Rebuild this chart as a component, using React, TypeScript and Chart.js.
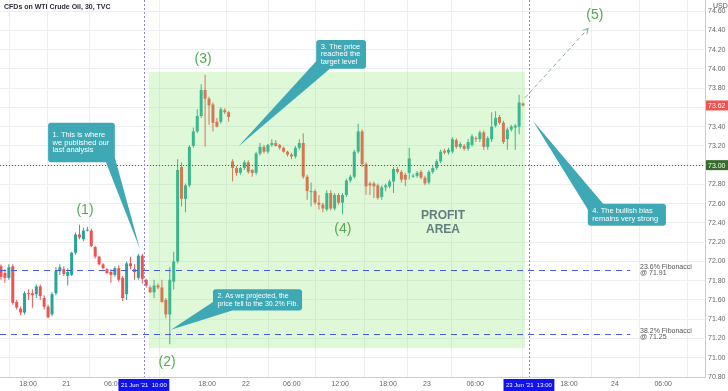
import React, { useEffect, useRef } from "react";
import { Chart, registerables } from "chart.js";
Chart.register(...registerables);

// ---- Candle data (30 min bars, WTI) ----
const opens = [71.95,71.88,71.83,71.95,71.58,71.51,71.47,71.67,71.67,71.66,71.74,71.62,71.53,71.45,71.67,71.90,71.92,71.85,71.86,72.09,72.28,72.23,72.32,72.32,72.15,72.05,71.97,71.92,71.89,71.86,71.93,71.83,71.66,71.98,71.92,71.83,72.06,71.81,71.73,71.68,71.75,71.73,71.60,71.45,71.79,72.00,72.98,72.65,72.79,73.20,73.35,73.51,73.78,73.69,73.63,73.45,73.45,73.57,73.55,73.04,72.97,72.92,72.97,73.03,72.95,72.92,73.12,73.19,73.14,73.21,73.23,73.21,73.18,73.14,73.11,73.09,73.18,73.23,72.88,72.72,72.73,72.61,72.59,72.54,72.71,72.55,72.69,72.61,72.69,72.84,72.88,73.14,73.35,73.01,72.81,72.81,72.79,72.67,72.77,72.78,72.83,72.96,72.93,72.90,72.92,72.88,72.89,72.93,72.87,72.82,72.93,72.97,73.04,73.15,73.13,73.14,73.26,73.19,73.20,73.17,73.21,73.28,73.27,73.34,73.19,73.27,73.41,73.50,73.44,73.27,73.37,73.39,73.40,73.64];
const highs = [71.97,71.92,71.97,71.97,71.60,71.53,71.69,71.71,71.71,71.76,71.76,71.65,71.55,71.68,71.94,71.97,71.95,71.93,72.10,72.30,72.38,72.35,72.36,72.34,72.16,72.06,71.98,71.93,71.92,71.95,71.96,71.85,72.00,72.05,71.97,72.08,72.08,71.82,71.75,71.81,71.77,71.81,71.62,71.94,72.10,73.06,73.03,72.81,73.21,73.39,73.58,73.84,73.94,73.71,73.65,73.49,73.60,73.59,73.56,73.06,72.99,72.98,73.05,73.05,72.96,73.14,73.23,73.21,73.22,73.27,73.26,73.22,73.19,73.15,73.13,73.20,73.27,73.33,72.90,72.82,72.75,72.69,72.61,72.74,72.74,72.71,72.71,72.71,72.86,72.90,73.16,73.43,73.37,73.03,72.83,72.83,72.81,72.79,72.81,72.85,72.98,72.98,72.95,72.92,73.18,72.91,72.94,72.95,72.89,72.95,72.99,73.06,73.16,73.17,73.18,73.29,73.28,73.24,73.22,73.27,73.32,73.30,73.36,73.36,73.30,73.55,73.56,73.52,73.46,73.39,73.42,73.43,73.73,73.65];
const lows = [71.81,71.78,71.81,71.55,71.50,71.44,71.45,71.60,71.52,71.62,71.60,71.50,71.41,71.43,71.65,71.86,71.85,71.75,71.85,72.07,72.23,72.21,72.31,72.15,72.03,71.96,71.92,71.87,71.78,71.84,71.79,71.59,71.60,71.92,71.81,71.81,71.77,71.73,71.67,71.62,71.71,71.57,71.41,71.14,71.71,71.98,72.57,72.51,72.77,73.18,73.33,73.49,73.19,73.42,73.35,73.39,73.43,73.53,73.45,72.83,72.89,72.90,72.95,72.91,72.88,72.90,73.10,73.12,73.12,73.19,73.19,73.16,73.13,73.09,73.06,73.07,73.16,72.86,72.64,72.57,72.59,72.54,72.51,72.52,72.53,72.53,72.59,72.49,72.67,72.82,72.86,73.12,72.98,72.69,72.69,72.66,72.64,72.64,72.73,72.76,72.71,72.91,72.82,72.78,72.85,72.87,72.87,72.85,72.79,72.80,72.91,72.95,73.02,73.11,73.11,73.12,73.17,73.17,73.15,73.15,73.19,73.24,73.24,73.16,73.16,73.24,73.39,73.42,73.22,73.16,73.35,73.16,73.32,73.61];
const closes = [71.84,71.83,71.94,71.57,71.52,71.47,71.67,71.66,71.65,71.74,71.64,71.53,71.42,71.66,71.90,71.94,71.87,71.89,72.09,72.28,72.25,72.32,72.33,72.16,72.05,71.97,71.93,71.88,71.86,71.93,71.81,71.62,71.98,71.95,71.89,72.06,71.82,71.75,71.68,71.75,71.73,71.58,71.45,71.81,72.00,72.95,72.65,72.79,73.19,73.35,73.51,73.78,73.69,73.62,73.44,73.40,73.58,73.55,73.50,72.97,72.92,72.97,73.03,72.93,72.92,73.12,73.19,73.14,73.21,73.23,73.20,73.18,73.14,73.11,73.09,73.18,73.23,72.88,72.73,72.73,72.61,72.59,72.55,72.71,72.55,72.69,72.61,72.69,72.84,72.88,73.14,73.35,73.01,72.78,72.79,72.78,72.66,72.77,72.79,72.83,72.96,72.93,72.85,72.85,73.07,72.89,72.92,72.87,72.81,72.93,72.97,73.04,73.14,73.13,73.16,73.27,73.19,73.22,73.17,73.24,73.30,73.27,73.34,73.19,73.28,73.40,73.49,73.44,73.24,73.37,73.40,73.41,73.65,73.62];

// ---- Axis ticks ----
const xTickPos = [6.9, 16.6, 28.5, 52.5, 62.4, 74.1, 86.4, 98.6, 108.5, 120.8, 144.7, 156.4, 168.7];
const xTickLabels = ["18:00", "21", "06:00", "18:00", "22", "06:00", "12:00", "18:00", "23", "06:00", "18:00", "24", "06:00"];
const yTickValues = [70.8, 71.0, 71.2, 71.4, 71.6, 71.8, 72.0, 72.2, 72.4, 72.6, 72.8, 73.0, 73.2, 73.4, 73.6, 73.8, 74.0, 74.2, 74.4, 74.6];

// ---- Levels / markers ----
const fibLevels = [71.91, 71.25];
const fibLabels = [["23.6% Fibonacci", "@ 71.91"], ["38.2% Fibonacci", "@ 71.25"]];
const pivotLevel = 73.0;
const markerIdx = [36.4, 134.5];
const markerLabels = ["21 Jun '21  10:00", "23 Jun '21  13:00"];
const waveLabels = ["(1)", "(2)", "(3)", "(4)", "(5)"];
const waveIdx = [21.4, 42.3, 51.5, 87.1, 151.3];
const wavePrice = [72.53, 70.95, 74.10, 72.34, 74.56];

const GREEN = "#26a69a";
const RED = "#ef5350";
const FONT = "'Liberation Sans', Arial, sans-serif";

export default function App() {
  const ref = useRef<HTMLCanvasElement>(null);
  useEffect(() => {
    document.body.style.margin = "0";
    const canvas = ref.current!;
    const n = closes.length;
    const colors = closes.map((c, i) => (c >= opens[i] ? GREEN : RED));
    const bodies = closes.map((c, i) => ({ x: i, y: [opens[i], c] }));
    const wicks = closes.map((_, i) => ({ x: i, y: [lows[i], highs[i]] }));

    const annot = {
      id: "annot",
      afterDatasetsDraw(chart: any) {
        const ctx = chart.ctx as CanvasRenderingContext2D;
        const xs = chart.scales.x, ys = chart.scales.y, ca = chart.chartArea;
        const X = (v: number) => xs.getPixelForValue(v);
        const Y = (v: number) => ys.getPixelForValue(v);
        ctx.save();
        // profit area overlay
        ctx.fillStyle = "rgba(128,232,100,0.25)";
        ctx.fillRect(X(37.7), Y(73.97), X(133.5) - X(37.7), Y(71.1) - Y(73.97));

        // pivot dotted line
        ctx.strokeStyle = "#555";
        ctx.lineWidth = 1;
        ctx.setLineDash([1, 2]);
        ctx.beginPath();
        const py = Math.round(Y(pivotLevel)) + 0.5;
        ctx.moveTo(ca.left, py);
        ctx.lineTo(ca.right, py);
        ctx.stroke();

        // fib dashed lines
        ctx.strokeStyle = "#4a5be0";
        ctx.setLineDash([6, 5]);
        fibLevels.forEach((lv) => {
          const y = Math.round(Y(lv)) + 0.5;
          ctx.beginPath();
          ctx.moveTo(ca.left, y);
          ctx.lineTo(X(160.3), y);
          ctx.stroke();
        });
        ctx.setLineDash([]);
        ctx.fillStyle = "#555";
        ctx.font = `7px ${FONT}`;
        ctx.textAlign = "left";
        ctx.textBaseline = "middle";
        fibLevels.forEach((lv, i) => {
          const y = Y(lv);
          ctx.fillText(fibLabels[i][0], X(162.8), y - 3);
          ctx.fillText(fibLabels[i][1], X(162.8), y + 3);
        });

        // vertical dotted markers
        ctx.strokeStyle = "#8c84d8";
        ctx.setLineDash([2, 2]);
        markerIdx.forEach((m) => {
          const x = Math.round(X(m)) + 0.5;
          ctx.beginPath();
          ctx.moveTo(x, ca.top);
          ctx.lineTo(x, ca.bottom);
          ctx.stroke();
        });
        ctx.setLineDash([]);

        // dashed projection arrow
        const ax1 = X(133.5), ay1 = Y(73.7), ax2 = X(149.6), ay2 = Y(74.42);
        ctx.strokeStyle = "#8fae8f";
        ctx.setLineDash([4, 3]);
        ctx.beginPath();
        ctx.moveTo(ax1, ay1);
        ctx.lineTo(ax2, ay2);
        ctx.stroke();
        ctx.setLineDash([]);
        const ang = Math.atan2(ay2 - ay1, ax2 - ax1);
        ctx.beginPath();
        ctx.moveTo(ax2 - 6 * Math.cos(ang - 0.5), ay2 - 6 * Math.sin(ang - 0.5));
        ctx.lineTo(ax2, ay2);
        ctx.lineTo(ax2 - 6 * Math.cos(ang + 0.5), ay2 - 6 * Math.sin(ang + 0.5));
        ctx.stroke();

        // wave labels
        ctx.fillStyle = "#55a855";
        ctx.font = `14px ${FONT}`;
        ctx.textAlign = "center";
        waveLabels.forEach((w, i) => ctx.fillText(w, X(waveIdx[i]), Y(wavePrice[i])));

        // profit area text
        ctx.fillStyle = "#607d80";
        ctx.font = `bold 12px ${FONT}`;
        ctx.fillText("PROFIT", X(112.6), Y(72.48));
        ctx.fillText("AREA", X(112.6), Y(72.33));

        // callouts
        const callouts = [
          { lines: ["1. This is where", "we published our", "last analysis"], box: [12.0, 73.44, 29.0, 73.03], tip: [35.4, 72.13], base: [[26.75, 73.03], [29.0, 73.08]] },
          { lines: ["2. As we projected, the", "price fell to the 30.2% Fib."], box: [54.0, 71.71, 76.7, 71.49], tip: [43.3, 71.29], base: [[54.0, 71.58], [58.9, 71.49]] },
          { lines: ["3. The price", "reached the", "target level"], box: [80.3, 74.3, 93.0, 74.0], tip: [60.4, 73.19], base: [[80.3, 74.08], [83.8, 74.0]] },
          { lines: ["4. The bullish bias", "remains very strong"], box: [149.5, 72.6, 169.4, 72.37], tip: [135.5, 73.46], base: [[149.5, 72.54], [153.4, 72.6]] },
        ];
        callouts.forEach((c) => {
          ctx.fillStyle = "#3fa8b5";
          ctx.beginPath();
          ctx.moveTo(X(c.tip[0]), Y(c.tip[1]));
          ctx.lineTo(X(c.base[0][0]), Y(c.base[0][1]));
          ctx.lineTo(X(c.base[1][0]), Y(c.base[1][1]));
          ctx.closePath();
          ctx.fill();
          const bx = X(c.box[0]), by = Y(c.box[1]), bw = X(c.box[2]) - bx, bh = Y(c.box[3]) - by;
          ctx.beginPath();
          (ctx as any).roundRect(bx, by, bw, bh, 3);
          ctx.fill();
          ctx.fillStyle = "#ffffff";
          let fs = 7.5;
          ctx.font = `${fs}px ${FONT}`;
          const maxW = Math.max(...c.lines.map((l) => ctx.measureText(l).width));
          if (maxW > bw - 8) {
            fs = (fs * (bw - 8)) / maxW;
            ctx.font = `${fs}px ${FONT}`;
          }
          ctx.textAlign = "left";
          ctx.textBaseline = "middle";
          const lh = 7.5;
          const cy = by + bh / 2 - ((c.lines.length - 1) * lh) / 2;
          c.lines.forEach((l, i) => ctx.fillText(l, bx + 4.5, cy + i * lh));
        });
        ctx.restore();
      },
      afterDraw(chart: any) {
        const ctx = chart.ctx as CanvasRenderingContext2D;
        const xs = chart.scales.x, ys = chart.scales.y, ca = chart.chartArea;
        const X = (v: number) => xs.getPixelForValue(v);
        const Y = (v: number) => ys.getPixelForValue(v);
        ctx.save();
        ctx.font = `6px ${FONT}`;
        ctx.textBaseline = "middle";
        ctx.textAlign = "center";
        // time markers
        markerIdx.forEach((m, i) => {
          const cx = X(m);
          const w = ctx.measureText(markerLabels[i]).width + 5;
          ctx.fillStyle = "#1212ee";
          ctx.fillRect(cx - w / 2, ca.bottom + 2, w, 12);
          ctx.fillStyle = "#fff";
          ctx.fillText(markerLabels[i], cx, ca.bottom + 8);
        });
        // price badges
        ctx.font = `7px ${FONT}`;
        const badge = (v: number, bg: string) => {
          const y = Y(v);
          ctx.fillStyle = bg;
          ctx.fillRect(ca.right + 1, y - 5, 22, 10);
          ctx.fillStyle = "#fff";
          ctx.textAlign = "left";
          ctx.fillText(v.toFixed(2), ca.right + 3, y + 0.5);
        };
        badge(closes[n - 1], RED);
        badge(pivotLevel, "#366b2c");
        // title + currency
        ctx.fillStyle = "#2a2e39";
        ctx.font = `bold 7px ${FONT}`;
        ctx.textAlign = "left";
        ctx.fillText("CFDs on WTI Crude Oil, 30, TVC", 4, 7);
        ctx.fillStyle = "#555";
        ctx.font = `7px ${FONT}`;
        ctx.fillText("USD", 713, 6);
        ctx.restore();
      },
    };

    const chart = new Chart(canvas, {
      type: "bar",
      data: {
        datasets: [
          { data: bodies as any, backgroundColor: colors, barThickness: 3, minBarLength: 1, grouped: false, inflateAmount: 0, borderWidth: 0 } as any,
          { data: wicks as any, backgroundColor: colors, barThickness: 1, grouped: false, inflateAmount: 0, borderWidth: 0 } as any,
        ],
      },
      options: {
        responsive: false,
        animation: false,
        layout: { padding: 0 },
        plugins: { legend: { display: false }, tooltip: { enabled: false } },
        scales: {
          x: {
            type: "linear",
            min: -0.25,
            max: 179.35,
            offset: false,
            grid: { color: "#eceef2", drawTicks: false },
            border: { color: "#c9ccd3" },
            afterBuildTicks: (s: any) => { s.ticks = xTickPos.map((v) => ({ value: v })); },
            afterFit: (s: any) => { s.height = 14; s.paddingLeft = 0; s.paddingRight = 0; },
            ticks: {
              autoSkip: false,
              maxRotation: 0,
              padding: 3,
              color: "#666",
              font: { size: 7, family: FONT },
              callback: (_v: any, i: number) => xTickLabels[i],
            },
          },
          y: {
            type: "linear",
            position: "right",
            min: 70.8,
            max: 74.715,
            grid: { color: "#eceef2", drawTicks: false },
            border: { color: "#c9ccd3" },
            afterBuildTicks: (s: any) => { s.ticks = yTickValues.map((v) => ({ value: v })); },
            afterFit: (s: any) => { s.width = 23; s.paddingTop = 0; s.paddingBottom = 0; },
            ticks: {
              padding: 3,
              crossAlign: "near",
              color: "#666",
              font: { size: 7, family: FONT },
              callback: (v: any) => Number(v).toFixed(2),
            },
          },
        },
      },
      plugins: [annot],
    });
    return () => chart.destroy();
  }, []);
  return (
    <div style={{ position: "absolute", left: 0, top: 0, width: 728, height: 391, background: "#fff" }}>
      <canvas ref={ref} width={728} height={391} style={{ display: "block" }} />
    </div>
  );
}
